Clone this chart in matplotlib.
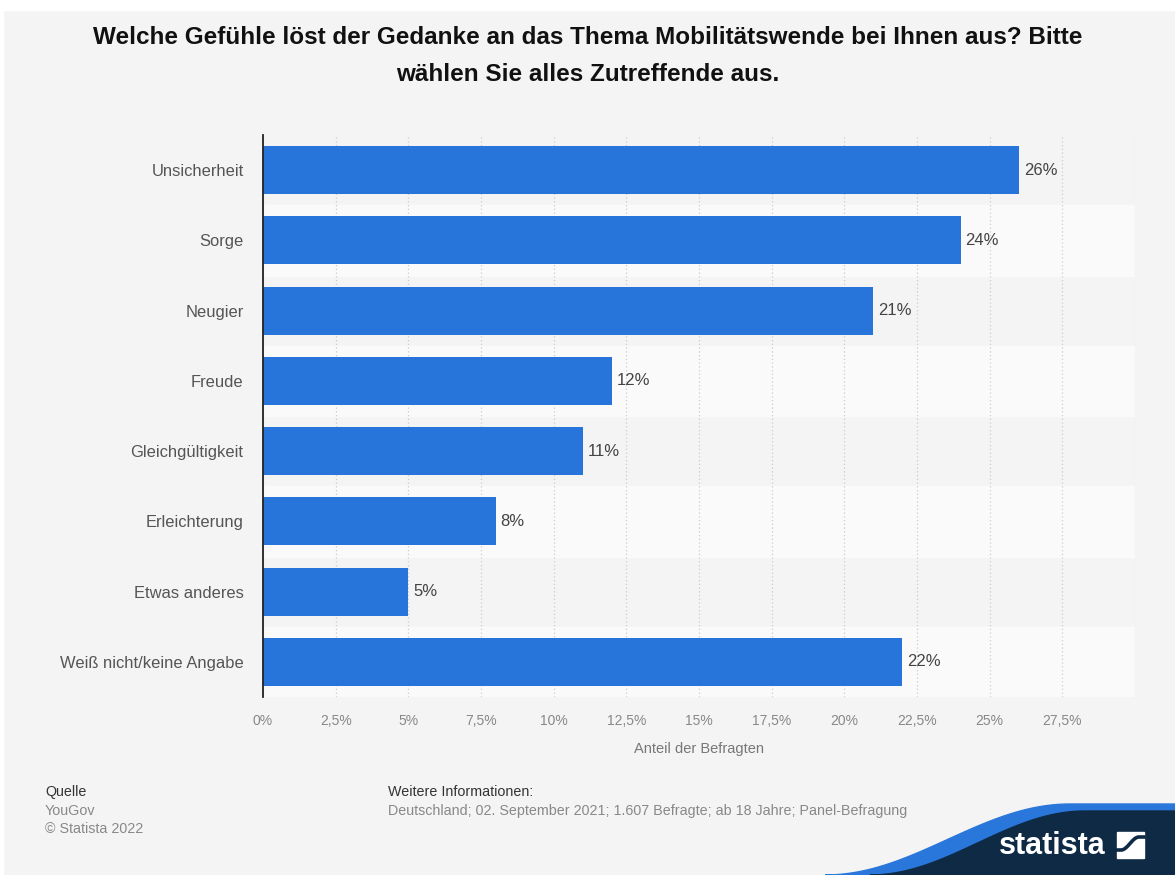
import matplotlib.pyplot as plt
import numpy as np
from matplotlib.patches import Polygon, Rectangle
from matplotlib.lines import Line2D
from matplotlib.ticker import FuncFormatter

plt.rcParams['font.family'] = ['Liberation Sans', 'DejaVu Sans']

categories = ["Unsicherheit", "Sorge", "Neugier", "Freude", "Gleichgültigkeit",
              "Erleichterung", "Etwas anderes", "Weiß nicht/keine Angabe"]
values = [26, 24, 21, 12, 11, 8, 5, 22]
xticks = np.arange(0, 30, 2.5)

title = ("Welche Gefühle löst der Gedanke an das Thema Mobilitätswende bei Ihnen aus? Bitte\n"
         "wählen Sie alles Zutreffende aus.")

BG = "#f4f4f4"
BAR = "#2775db"
NAVY = "#0e2a45"
W, H = 1175, 875

def fpt(x, y):
    # pixel position -> figure fraction
    return (x / W, 1 - y / H)

fig = plt.figure(figsize=(W / 100, H / 100), dpi=100, facecolor=BG)
# thin white margin at top and left
fig.patches.append(Rectangle((0, 1 - 10 / H), 1, 10 / H, transform=fig.transFigure,
                             color="white", zorder=-1))
fig.patches.append(Rectangle((0, 0), 3 / W, 1, transform=fig.transFigure,
                             color="white", zorder=-1))

ax = fig.add_axes([263 / W, 1 - 697 / H, (1135 - 263) / W, (697 - 135) / H])
ax.set_facecolor(BG)

n = len(categories)
y = np.arange(n)
for i in range(n):
    if i % 2 == 1:
        ax.axhspan(i - 0.5, i + 0.5, color="#fafafa", zorder=0)

ax.barh(y, values, height=0.68, color=BAR, zorder=3)
for yi, v in zip(y, values):
    ax.text(v + 0.17, yi, f"{v}%", va="center", ha="left", fontsize=12,
            color="#444444", zorder=4)

ax.set_xlim(0, 30)
ax.set_ylim(n - 0.5, -0.5)
ax.set_xticks(xticks)
ax.xaxis.set_major_formatter(FuncFormatter(lambda x, _: f"{x:g}%".replace(".", ",")))
ax.set_yticks(y)
ax.set_yticklabels(categories)
ax.tick_params(axis="y", length=0, pad=14, labelsize=11.9, labelcolor="#555555")
ax.tick_params(axis="x", length=0, pad=12, labelsize=10, labelcolor="#888888")
ax.grid(axis="x", color="#cccccc", linestyle=(0, (1, 2)), linewidth=0.9, zorder=1)
ax.axvline(30, color="#cccccc", linestyle=(0, (1, 2)), linewidth=0.9, zorder=1)
for s in ["top", "right", "bottom"]:
    ax.spines[s].set_visible(False)
ax.spines["left"].set_color("#222222")
ax.spines["left"].set_linewidth(1.3)
ax.spines["left"].set_zorder(5)
ax.set_xlabel("Anteil der Befragten", fontsize=10.5, color="#777777", labelpad=10)

fig.text(0.5, 1 - 56 / H, title, ha="center", va="center", fontsize=17.5,
         fontweight="bold", color="#111111", linespacing=1.78)

# footer
fs = 10.3
fig.text(*fpt(45, 792), "Quelle", fontsize=fs, color="#333333", va="center")
fig.text(*fpt(45, 811), "YouGov", fontsize=fs, color="#888888", va="center")
fig.text(*fpt(45, 829), "© Statista 2022", fontsize=fs, color="#888888", va="center")
fig.text(*fpt(388, 792), "Weitere Informationen:", fontsize=fs, color="#333333", va="center")
fig.text(*fpt(388, 811),
         "Deutschland; 02. September 2021; 1.607 Befragte; ab 18 Jahre; Panel-Befragung",
         fontsize=fs, color="#888888", va="center")

# logo wave in the corner
t = np.linspace(0, 1, 60)
def wave(x0, x1, y0, y1):
    s = 0.5 - 0.5 * np.cos(np.pi * t)
    xs = x0 + (x1 - x0) * t
    ys = y0 + (y1 - y0) * s
    return xs, ys

bx, by = wave(825, 1070, 875, 804)
blue_pts = [fpt(x, yy) for x, yy in zip(bx, by)] + [(1, 1 - 804 / H), (1, 0)]
fig.patches.append(Polygon(blue_pts, closed=True, transform=fig.transFigure,
                           color="#2a77dc", zorder=1))
dx, dy = wave(870, 1085, 875, 811)
dark_pts = [fpt(x, yy) for x, yy in zip(dx, dy)] + [(1, 1 - 811 / H), (1, 0)]
fig.patches.append(Polygon(dark_pts, closed=True, transform=fig.transFigure,
                           color=NAVY, zorder=2))
fig.text(*fpt(1052, 846), "statista", fontsize=22, fontweight="bold",
         color="white", ha="center", va="center", zorder=3)

# logo mark: white square crossed by a dark s-curve
fig.patches.append(Rectangle(fpt(1117, 858), 27 / W, 26 / H, transform=fig.transFigure,
                             color="white", zorder=3))
sx = np.linspace(1117, 1144, 40)
sy = 850 - 13 * (0.5 - 0.5 * np.cos(np.pi * (sx - 1121) / 18).clip(-1, 1))
sy = np.where(sx < 1121, 850, np.where(sx > 1139, 837, sy))
fig.add_artist(Line2D(sx / W, 1 - sy / H, transform=fig.transFigure,
                      color=NAVY, linewidth=2.6, zorder=4))

fig.savefig("out.png", dpi=100, facecolor=fig.get_facecolor())
